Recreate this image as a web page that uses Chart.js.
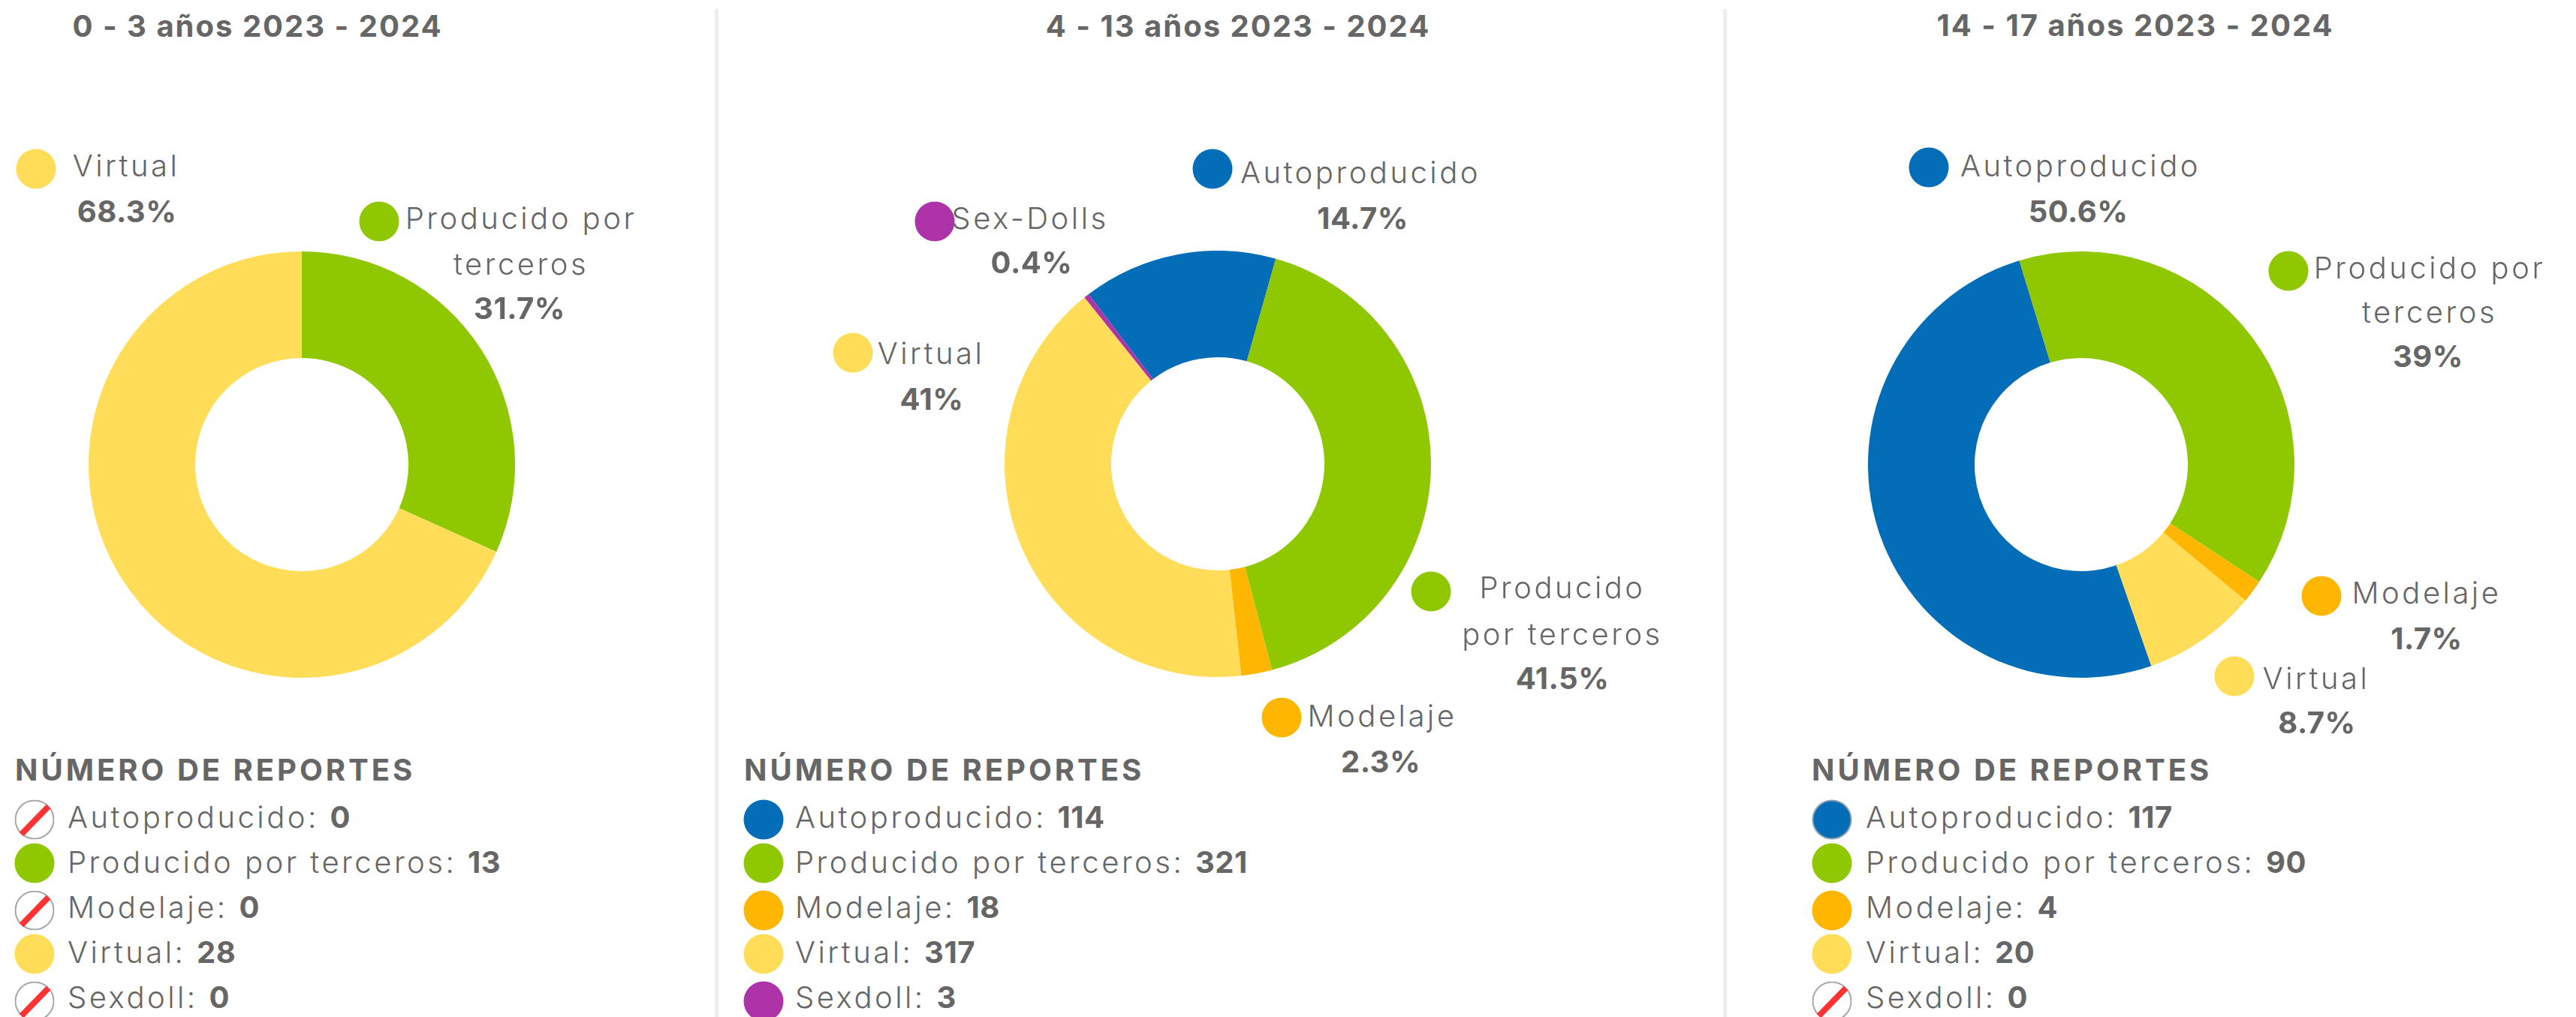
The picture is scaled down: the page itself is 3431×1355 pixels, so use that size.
<!DOCTYPE html>
<html lang="es">
<head>
<meta charset="utf-8">
<title>Número de reportes</title>
<script src="https://cdn.jsdelivr.net/npm/chart.js@4"></script>
<style>
  html, body { margin: 0; padding: 0; background: #fff; }
  #page { position: relative; width: 3431px; height: 1355px; overflow: hidden; color: #666; font-family: Inter, "Open Sans", sans-serif; }
  #page canvas { position: absolute; }
  .divider { position: absolute; top: 12px; bottom: 0; width: 5px; background: #eeeeee; }
  .txt { position: absolute; white-space: nowrap; transform: translate(-50%, -50%); font-size: 40px; font-weight: 300; letter-spacing: 3.5px; line-height: 1; }
  .bold { font-weight: 700; letter-spacing: 0.5px; }
  .title { letter-spacing: 2px; }
  .head { letter-spacing: 4px; }
  .left { transform: translate(0, -50%); }
  .dot { position: absolute; width: 53px; height: 53px; border-radius: 50%; transform: translate(-50%, -50%); box-sizing: border-box; }
  .ring { border: 2px solid #8c9fb2; }
  .none { position: absolute; width: 53px; height: 53px; transform: translate(-50%, -50%); }
</style>
</head>
<body>
<div id="page"></div>
<script>
const categories = ["Autoproducido", "Producido por terceros", "Modelaje", "Virtual", "Sexdoll"];
const colors = ["#036eb7", "#8fc800", "#ffb600", "#ffdd59", "#ae33a9"];

const titles = ["0 - 3 años 2023 - 2024", "4 - 13 años 2023 - 2024", "14 - 17 años 2023 - 2024"];
const reports0 = [0, 13, 0, 28, 0];
const reports1 = [114, 321, 18, 317, 3];
const reports2 = [117, 90, 4, 20, 0];
const allReports = [reports0, reports1, reports2];

// where each donut starts, degrees from the top
const rotations = [0, -37.3, 160.8];
const centers = [[402, 619], [1622, 618], [2772, 619]];
const radius = 284;

const titleSpots = [[343, 35], [1649, 35], [2844, 34]];
const legendX = [
  { head: 20, dot: 46, text: 90 },
  { head: 991, dot: 1017, text: 1059 },
  { head: 2413, dot: 2440, text: 2485 },
];
const legendDotRows = [1092, 1150, 1213, 1271, 1334];
const legendTextRows = [1089, 1149, 1209, 1269, 1329];
const legendHeadY = 1026;

// callouts around the donuts: category index, dot, text lines, percent spot
const callouts0 = [
  { cat: 3, dot: [48, 225], lines: [["Virtual", 168, 221]], pct: [169, 282] },
  { cat: 1, dot: [505, 295], lines: [["Producido por", 694, 291], ["terceros", 694, 352]], pct: [692, 411] },
];
const callouts1 = [
  { cat: 0, dot: [1615, 225], lines: [["Autoproducido", 1812, 230]], pct: [1815, 291] },
  { cat: 4, dot: [1245, 295], lines: [["Sex-Dolls", 1372, 291]], pct: [1374, 350] },
  { cat: 3, dot: [1136, 470], lines: [["Virtual", 1240, 471]], pct: [1241, 532] },
  { cat: 1, dot: [1906, 788], lines: [["Producido", 2081, 783], ["por terceros", 2081, 845]], pct: [2081, 904] },
  { cat: 2, dot: [1707, 956], lines: [["Modelaje", 1841, 954]], pct: [1839, 1015] },
];
const callouts2 = [
  { cat: 0, dot: [2569, 223], lines: [["Autoproducido", 2771, 221]], pct: [2768, 282] },
  { cat: 1, dot: [3048, 361], lines: [["Producido por", 3236, 357], ["terceros", 3236, 416]], pct: [3234, 475] },
  { cat: 2, dot: [3092, 794], lines: [["Modelaje", 3232, 790]], pct: [3232, 851] },
  { cat: 3, dot: [2976, 901], lines: [["Virtual", 3085, 904]], pct: [3086, 963] },
];
const allCallouts = [callouts0, callouts1, callouts2];

const page = document.getElementById("page");

function addText(text, x, y, className) {
  const el = document.createElement("div");
  el.className = className;
  el.textContent = text;
  el.style.left = x + "px";
  el.style.top = y + "px";
  page.appendChild(el);
  return el;
}

function addDot(cat, x, y, ring) {
  const el = document.createElement("div");
  el.className = ring ? "dot ring" : "dot";
  el.style.background = colors[cat];
  el.style.left = x + "px";
  el.style.top = y + "px";
  page.appendChild(el);
}

// categories with no reports get a crossed out circle in the legend
function addNoneDot(x, y) {
  const el = document.createElement("div");
  el.className = "none";
  el.style.left = x + "px";
  el.style.top = y + "px";
  el.innerHTML = '<svg width="53" height="53" viewBox="0 0 53 53">' +
    '<circle cx="26.5" cy="26.5" r="25.5" fill="#fff" stroke="#a6a6a6" stroke-width="2"/>' +
    '<line x1="9" y1="46" x2="45" y2="9" stroke="#ff3333" stroke-width="8"/></svg>';
  page.appendChild(el);
}

function percentText(values, i) {
  const total = values.reduce((a, b) => a + b, 0);
  return parseFloat((values[i] / total * 100).toFixed(1)) + "%";
}

[952, 2295].forEach((x) => {
  const d = document.createElement("div");
  d.className = "divider";
  d.style.left = x + "px";
  page.appendChild(d);
});

allReports.forEach((values, n) => {
  const canvas = document.createElement("canvas");
  canvas.width = radius * 2;
  canvas.height = radius * 2;
  canvas.style.left = centers[n][0] - radius + "px";
  canvas.style.top = centers[n][1] - radius + "px";
  page.appendChild(canvas);

  new Chart(canvas.getContext("2d"), {
    type: "doughnut",
    data: {
      labels: categories,
      datasets: [{ data: values, backgroundColor: colors, borderWidth: 0 }],
    },
    options: {
      responsive: false,
      animation: false,
      cutout: "50%",
      rotation: rotations[n],
      plugins: { legend: { display: false }, tooltip: { enabled: false } },
    },
  });

  addText(titles[n], titleSpots[n][0], titleSpots[n][1], "txt bold title");

  allCallouts[n].forEach((c) => {
    addDot(c.cat, c.dot[0], c.dot[1]);
    c.lines.forEach((l) => addText(l[0], l[1], l[2], "txt"));
    addText(percentText(values, c.cat), c.pct[0], c.pct[1], "txt bold");
  });

  addText("NÚMERO DE REPORTES", legendX[n].head, legendHeadY, "txt bold head left");
  categories.forEach((name, i) => {
    if (values[i] === 0) {
      addNoneDot(legendX[n].dot, legendDotRows[i]);
    } else {
      // the blue dot of the last legend keeps a thin grey ring
      addDot(i, legendX[n].dot, legendDotRows[i], n === 2 && i === 0);
    }
    const row = addText(name + ": ", legendX[n].text, legendTextRows[i], "txt left");
    const num = document.createElement("span");
    num.className = "bold";
    num.textContent = values[i];
    row.appendChild(num);
  });
});
</script>
</body>
</html>
